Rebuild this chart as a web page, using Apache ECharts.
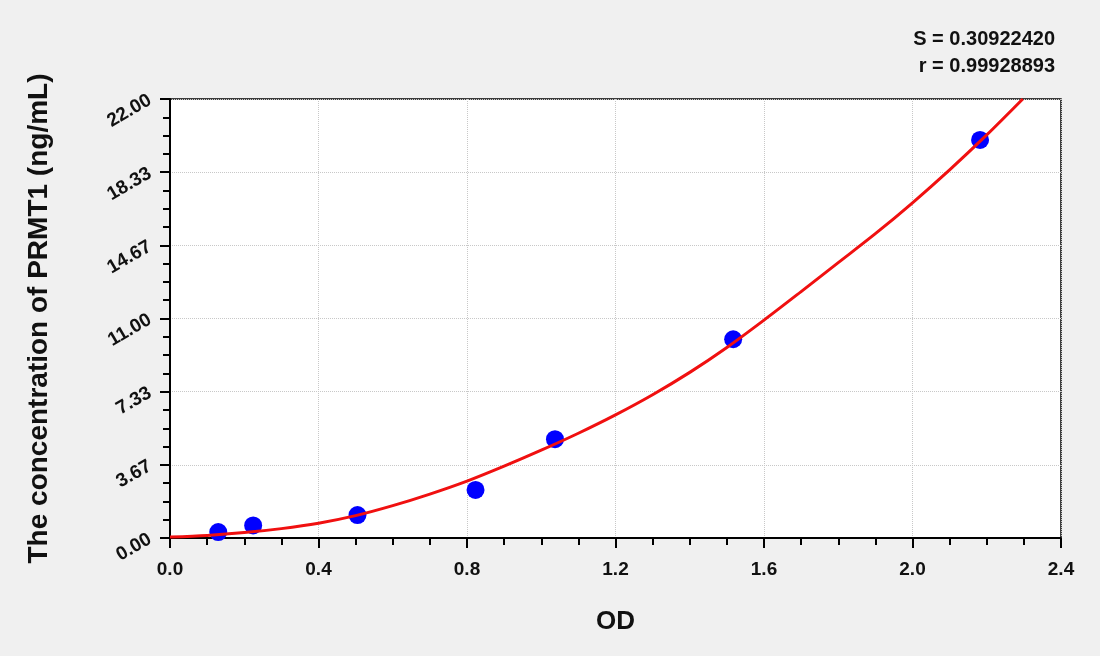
<!DOCTYPE html>
<html>
<head>
<meta charset="utf-8">
<script src="https://cdn.jsdelivr.net/npm/echarts@6/dist/echarts.min.js"></script>
<style>
html,body{margin:0;padding:0;background:#f0f0f0;}
#c{width:1100px;height:656px;}
</style>
</head>
<body>
<div id="c"></div>
<script>
// Measured standard points
var odValues = [0.130, 0.224, 0.505, 0.823, 1.037, 1.517, 2.182];
var concValues = [0.30, 0.63, 1.15, 2.41, 4.95, 9.96, 19.95];
// Fitted curve
var curveOD = [0.0, 0.1, 0.2, 0.3, 0.4, 0.5, 0.6, 0.7, 0.8, 0.9, 1.0, 1.1, 1.2, 1.3, 1.4, 1.5, 1.6, 1.7, 1.8, 1.9, 2.0, 2.1, 2.2, 2.297];
var curveConc = [0.05, 0.13, 0.27, 0.47, 0.74, 1.12, 1.62, 2.20, 2.85, 3.60, 4.40, 5.25, 6.17, 7.18, 8.30, 9.55, 10.92, 12.35, 13.80, 15.25, 16.80, 18.45, 20.20, 22.0];
var statS = 'S = 0.30922420';
var statR = 'r = 0.99928893';
var xTitle = 'OD';
var yTitle = 'The concentration of PRMT1 (ng/mL)';

var font = 'Liberation Sans, Arial, sans-serif';
var chart = echarts.init(document.getElementById('c'));
chart.setOption({
  backgroundColor: '#f0f0f0',
  animation: false,
  title: [
    {text: statS, right: 40, top: 24, textStyle: {fontFamily: font, fontSize: 20, fontWeight: 'bold', color: '#111'}},
    {text: statR, right: 40, top: 51, textStyle: {fontFamily: font, fontSize: 20, fontWeight: 'bold', color: '#111'}}
  ],
  grid: {left: 170, right: 39, top: 99, bottom: 118, show: true, backgroundColor: '#fff', borderColor: '#000', borderWidth: 1.5},
  xAxis: {
    type: 'value', min: 0, max: 2.4, interval: 0.4,
    name: xTitle, nameLocation: 'middle', nameGap: 71,
    nameTextStyle: {fontFamily: font, fontSize: 26, fontWeight: 'bold', color: '#111'},
    axisLine: {show: true, onZero: false, lineStyle: {color: '#000', width: 2}},
    axisTick: {show: true, inside: false, length: 10, lineStyle: {color: '#000', width: 2}},
    minorTick: {show: true, splitNumber: 4, length: 7, lineStyle: {color: '#000', width: 2}},
    axisLabel: {fontFamily: font, fontSize: 19, fontWeight: 'bold', color: '#111', margin: 22, formatter: function(v){return v.toFixed(1);}},
    splitLine: {show: true, lineStyle: {color: '#c8c8c8', type: 'dotted', width: 1}}
  },
  yAxis: {
    type: 'value', min: 0, max: 22, interval: 22/6,
    name: yTitle, nameLocation: 'middle', nameGap: 117,
    nameTextStyle: {fontFamily: font, fontSize: 28, fontWeight: 'bold', color: '#111'},
    axisLine: {show: true, onZero: false, lineStyle: {color: '#000', width: 2}},
    axisTick: {show: true, inside: false, length: 10, lineStyle: {color: '#000', width: 2}},
    minorTick: {show: true, splitNumber: 4, length: 7, lineStyle: {color: '#000', width: 2}},
    axisLabel: {fontFamily: font, fontSize: 19, fontWeight: 'bold', color: '#111', margin: 20, rotate: 30, formatter: function(v){return v.toFixed(2);}},
    splitLine: {show: true, lineStyle: {color: '#c8c8c8', type: 'dotted', width: 1}}
  },
  series: [
    {
      type: 'line', smooth: 0.3, showSymbol: false, symbol: 'none',
      lineStyle: {color: '#f01010', width: 3},
      data: curveOD.map(function(x, i){return [x, curveConc[i]];}),
      z: 3
    },
    {
      type: 'scatter', symbol: 'circle', symbolSize: 18,
      itemStyle: {color: '#0000ff', opacity: 1},
      data: odValues.map(function(x, i){return [x, concValues[i]];}),
      z: 2
    }
  ]
});
</script>
</body>
</html>
